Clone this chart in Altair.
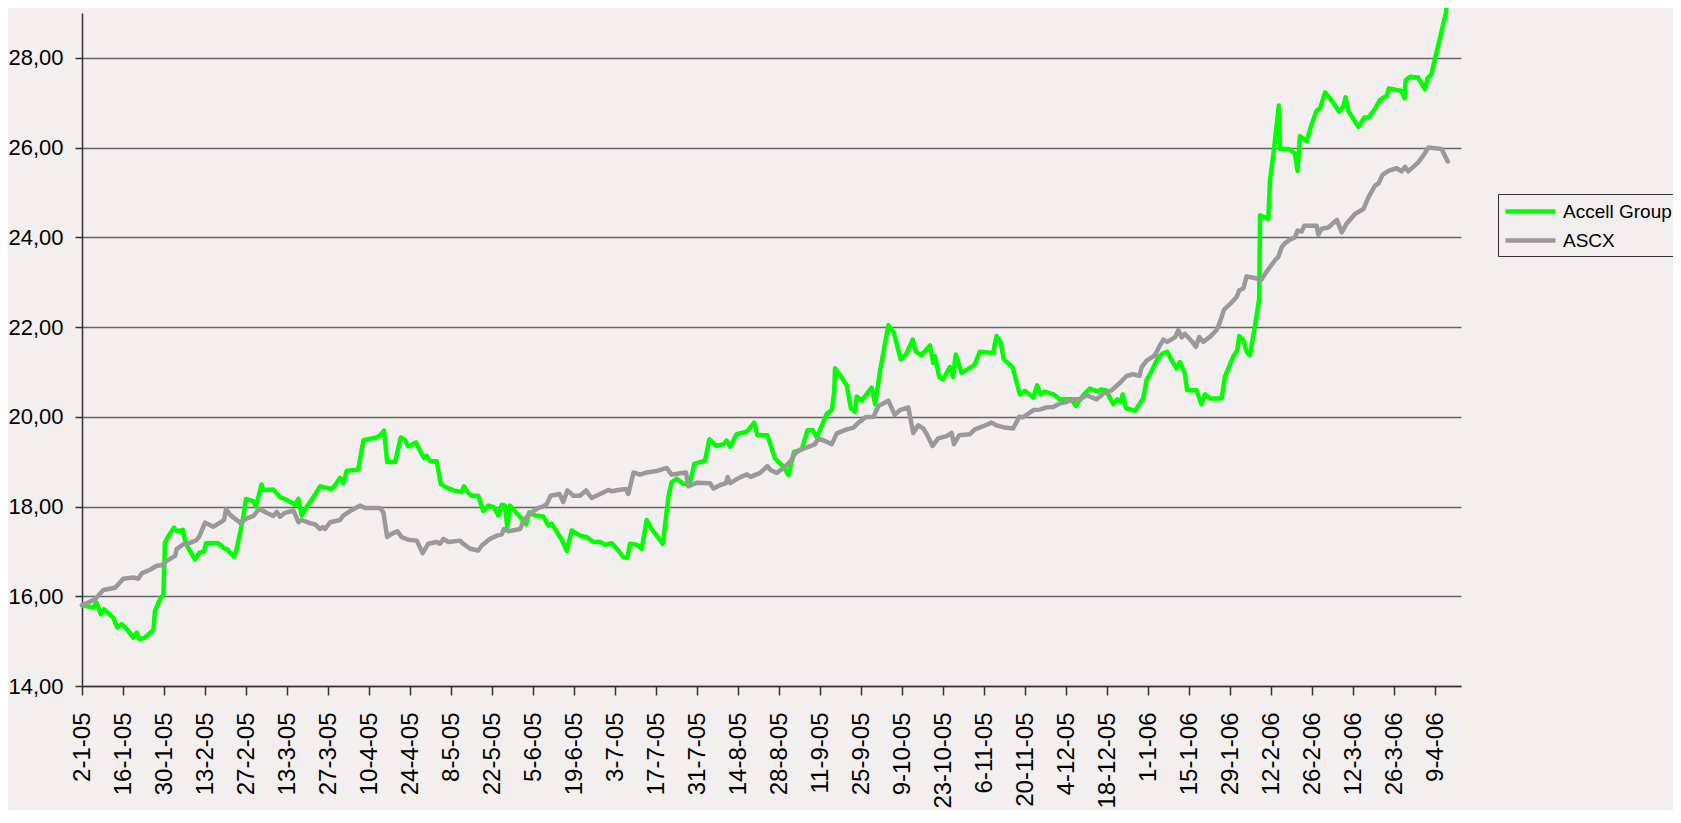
import altair as alt
import pandas as pd

START = "2005-01-02"
END_DAYS = 470.8  # axis end, in days after START

series_names = ["Accell Group", "ASCX"]
series_colors = ["#00FF00", "#999999"]

accell_days = [0, 3.9, 5.0, 6.4, 7.5, 10.7, 12.1, 13.5, 15.3, 17.5,
               18.7, 19.6, 21.5, 24.4, 24.9, 26.6, 27.8, 28.3, 29.5, 31.4,
               32.3, 34.4, 35.5, 38.6, 40.1, 41.7, 42.3, 44.3, 46.5, 48.3,
               49.4, 51.9, 52.8, 54.9, 56.0, 58.5, 59.4, 61.3, 61.9, 65.3,
               67.6, 69.9, 72.7, 73.9, 75.0, 76.7, 79.0, 81.3, 85.2, 86.4,
               88.1, 89.2, 90.4, 94.3, 96.1, 100.6, 101.7, 103.1, 104.2, 106.9,
               108.8, 110.3, 111.4, 114.0, 116.0, 116.8, 117.7, 118.8, 121.1, 122.5,
               124.5, 126.8, 129.6, 130.4, 131.9, 133.0, 135.3, 137.0, 138.7, 140.5,
               142.2, 143.3, 144.4, 145.2, 146.1, 148.4, 150.1, 151.6, 152.7, 154.7,
               157.5, 159.2, 160.4, 163.8, 165.5, 167.2, 170.0, 172.3, 174.6, 176.9,
               178.6, 180.9, 183.1, 184.8, 186.2, 187.1, 189.4, 191.1, 192.8, 194.5,
               196.2, 198.3, 200.2, 201.3, 203.0, 205.3, 207.6, 209.0, 212.7, 214.2,
               216.5, 219.0, 220.1, 221.3, 223.5, 227.0, 229.5, 230.6, 234.0, 236.6,
               238.3, 239.5, 241.2, 243.1, 245.7, 247.7, 249.5, 250.9, 254.3, 256.0,
               256.8, 257.1, 258.8, 261.1, 262.5, 263.9, 264.5, 266.2, 269.6, 270.8,
               272.5, 275.3, 277.2, 279.5, 281.5, 283.6, 284.7, 286.6, 289.5, 290.6,
               291.2, 292.7, 294.0, 296.3, 297.4, 298.3, 300.3, 303.7, 304.8, 306.5,
               311.1, 312.2, 313.6, 314.7, 317.7, 320.2, 321.9, 324.8, 326.1, 327.3,
               328.7, 331.6, 333.9, 337.8, 339.3, 341.8, 344.1, 347.0, 347.8, 349.6,
               352.1, 353.4, 354.6, 355.3, 356.4, 359.5, 361.2, 362.3, 363.5, 365.2,
               367.4, 368.9, 370.5, 372.0, 373.7, 374.8, 376.5, 377.3, 380.5, 382.2,
               383.4, 385.1, 389.1, 390.2, 393.1, 394.4, 395.1, 396.5, 397.6, 398.7,
               400.4, 401.9, 402.2, 405.0, 405.6, 406.9, 408.6, 409.0, 411.9, 414.1,
               415.0, 415.8, 418.1, 419.8, 421.5, 422.7, 424.4, 427.2, 429.2, 430.6,
               431.4, 432.3, 435.8, 437.8, 439.2, 441.4, 443.1, 445.4, 446.2, 450.5,
               451.5, 451.9, 453.4, 456.2, 458.5, 459.4, 460.6, 463.1, 465.6, 466.5]
accell_vals = [15.80, 15.75, 15.86, 15.60, 15.71, 15.52, 15.30, 15.38, 15.27, 15.08,
               15.19, 15.04, 15.08, 15.25, 15.67, 15.93, 16.04, 17.19, 17.34, 17.53,
               17.45, 17.48, 17.16, 16.82, 16.97, 17.00, 17.18, 17.19, 17.18, 17.08,
               17.05, 16.88, 17.05, 17.71, 18.17, 18.12, 18.00, 18.49, 18.37, 18.38,
               18.21, 18.15, 18.04, 18.17, 17.80, 17.99, 18.21, 18.45, 18.39, 18.47,
               18.64, 18.52, 18.80, 18.82, 19.48, 19.54, 19.58, 19.69, 18.99, 18.99,
               19.54, 19.48, 19.34, 19.43, 19.17, 19.08, 19.13, 19.01, 19.01, 18.50,
               18.42, 18.36, 18.32, 18.45, 18.30, 18.24, 18.24, 17.90, 18.02, 17.99,
               17.80, 18.04, 18.02, 17.54, 18.02, 17.85, 17.73, 17.60, 17.87, 17.80,
               17.78, 17.58, 17.62, 17.26, 17.01, 17.47, 17.35, 17.32, 17.21, 17.21,
               17.15, 17.18, 17.02, 16.87, 16.86, 17.17, 17.15, 17.06, 17.70, 17.50,
               17.35, 17.17, 18.21, 18.54, 18.62, 18.50, 18.52, 18.95, 19.02, 19.50,
               19.35, 19.39, 19.47, 19.33, 19.61, 19.67, 19.87, 19.59, 19.59, 19.07,
               18.96, 18.89, 18.70, 19.22, 19.27, 19.70, 19.70, 19.54, 20.07, 20.15,
               20.56, 21.08, 20.93, 20.70, 20.19, 20.11, 20.45, 20.36, 20.65, 20.28,
               21.04, 22.04, 21.87, 21.28, 21.41, 21.72, 21.45, 21.37, 21.59, 21.20,
               21.35, 20.88, 20.83, 21.11, 20.89, 21.39, 20.98, 21.11, 21.17, 21.45,
               21.42, 21.80, 21.67, 21.28, 21.11, 20.50, 20.58, 20.43, 20.70, 20.50,
               20.56, 20.50, 20.39, 20.39, 20.24, 20.48, 20.63, 20.56, 20.61, 20.59,
               20.28, 20.39, 20.33, 20.50, 20.19, 20.13, 20.30, 20.41, 20.83, 21.02,
               21.32, 21.41, 21.45, 21.26, 21.08, 21.22, 20.98, 20.59, 20.59, 20.28,
               20.50, 20.41, 20.41, 20.89, 21.35, 21.48, 21.80, 21.71, 21.45, 21.37,
               22.00, 22.63, 24.49, 24.41, 25.27, 25.93, 26.94, 25.97, 25.97, 25.87,
               25.48, 26.26, 26.14, 26.52, 26.82, 26.88, 27.23, 27.00, 26.80, 26.91,
               27.12, 26.82, 26.46, 26.67, 26.67, 26.86, 27.06, 27.15, 27.32, 27.26,
               27.10, 27.50, 27.58, 27.56, 27.30, 27.55, 27.62, 28.30, 28.99, 29.40]

ascx_days = [0, 4.4, 7.3, 11.3, 14.1, 17.5, 19.2, 20.4, 23.2, 25.5,
             27.2, 28.9, 31.8, 32.3, 34.6, 36.9, 39.1, 40.1, 42.0, 44.8,
             47.1, 48.5, 49.2, 50.5, 54.0, 56.2, 58.5, 59.4, 60.5, 63.0,
             65.3, 66.5, 67.6, 69.3, 72.2, 73.9, 75.0, 77.8, 79.6, 81.3,
             82.2, 83.0, 84.7, 88.1, 89.2, 91.5, 94.9, 96.6, 101.7, 102.9,
             104.2, 105.7, 107.7, 109.1, 111.4, 114.3, 116.3, 118.2, 121.1, 122.2,
             123.4, 125.1, 129.1, 130.0, 132.5, 135.3, 136.5, 139.3, 141.6, 143.3,
             144.1, 145.6, 149.6, 150.7, 153.0, 155.8, 157.5, 158.7, 160.0, 163.0,
             164.3, 165.7, 167.8, 170.0, 172.1, 174.0, 176.9, 179.7, 180.9, 183.1,
             185.7, 186.5, 188.3, 190.5, 192.8, 196.2, 199.6, 201.3, 204.2, 206.2,
             207.0, 209.9, 214.4, 215.6, 217.9, 219.9, 220.4, 221.3, 223.0, 224.7,
             227.0, 228.3, 231.5, 234.0, 235.2, 237.2, 240.0, 241.8, 243.5, 245.2,
             248.0, 250.3, 251.4, 254.3, 256.0, 257.7, 261.1, 263.4, 265.1, 267.4,
             270.2, 271.9, 275.3, 277.5, 279.2, 282.1, 283.8, 285.5, 287.2, 288.3,
             290.4, 292.3, 295.2, 296.9, 297.7, 299.5, 303.1, 304.8, 307.7, 310.5,
             312.2, 315.1, 317.9, 320.0, 321.3, 324.8, 327.0, 329.3, 331.6, 333.9,
             336.1, 338.4, 340.7, 343.0, 346.4, 348.7, 351.5, 354.4, 356.6, 358.9,
             361.0, 361.8, 363.5, 366.3, 368.0, 369.2, 370.5, 373.1, 374.3, 375.4,
             376.5, 378.8, 380.3, 381.4, 382.8, 385.1, 387.4, 388.5, 389.9, 391.9,
             394.2, 395.1, 396.5, 397.6, 399.9, 402.7, 404.4, 405.6, 407.3, 408.4,
             409.6, 410.7, 412.4, 414.1, 415.0, 416.4, 417.3, 421.5, 422.1, 423.2,
             425.5, 428.4, 430.1, 431.8, 434.6, 437.5, 439.2, 441.4, 442.6, 444.0,
             446.0, 448.8, 450.5, 451.7, 452.8, 456.2, 457.9, 459.7, 464.2, 465.3,
             466.3]
ascx_vals = [15.80, 15.93, 16.14, 16.19, 16.39, 16.42, 16.39, 16.51, 16.59, 16.68,
             16.69, 16.79, 16.90, 17.05, 17.16, 17.19, 17.25, 17.34, 17.64, 17.55,
             17.64, 17.70, 17.94, 17.82, 17.64, 17.73, 17.79, 17.86, 17.95, 17.86,
             17.79, 17.88, 17.77, 17.86, 17.91, 17.65, 17.70, 17.63, 17.60, 17.50,
             17.54, 17.50, 17.65, 17.70, 17.80, 17.90, 18.02, 17.97, 17.97, 17.87,
             17.32, 17.39, 17.45, 17.32, 17.26, 17.24, 16.96, 17.17, 17.21, 17.17,
             17.28, 17.21, 17.24, 17.18, 17.06, 17.02, 17.13, 17.28, 17.35, 17.38,
             17.50, 17.45, 17.50, 17.69, 17.85, 17.97, 18.00, 18.06, 18.24, 18.28,
             18.10, 18.36, 18.24, 18.24, 18.36, 18.19, 18.28, 18.37, 18.34, 18.37,
             18.39, 18.28, 18.76, 18.71, 18.76, 18.79, 18.86, 18.71, 18.74, 18.76,
             18.45, 18.53, 18.52, 18.40, 18.48, 18.52, 18.66, 18.52, 18.59, 18.65,
             18.72, 18.66, 18.75, 18.90, 18.81, 18.75, 18.89, 19.00, 19.18, 19.27,
             19.33, 19.39, 19.52, 19.44, 19.39, 19.63, 19.72, 19.76, 19.87, 19.99,
             20.00, 20.24, 20.36, 20.04, 20.15, 20.21, 19.64, 19.81, 19.74, 19.63,
             19.35, 19.52, 19.57, 19.64, 19.39, 19.59, 19.61, 19.72, 19.79, 19.87,
             19.81, 19.76, 19.74, 20.00, 19.99, 20.15, 20.16, 20.21, 20.22, 20.30,
             20.33, 20.39, 20.39, 20.48, 20.39, 20.52, 20.59, 20.76, 20.91, 20.95,
             20.91, 21.11, 21.25, 21.37, 21.59, 21.72, 21.67, 21.77, 21.93, 21.77,
             21.85, 21.69, 21.56, 21.78, 21.67, 21.78, 21.94, 22.11, 22.39, 22.51,
             22.67, 22.82, 22.86, 23.13, 23.10, 23.06, 23.23, 23.34, 23.49, 23.56,
             23.78, 23.87, 23.95, 24.00, 24.15, 24.13, 24.26, 24.26, 24.06, 24.19,
             24.22, 24.39, 24.11, 24.31, 24.52, 24.63, 24.89, 25.15, 25.20, 25.39,
             25.48, 25.54, 25.47, 25.57, 25.47, 25.67, 25.82, 26.00, 25.97, 25.82,
             25.69]

tick_dates = ["2005-01-02", "2005-01-16", "2005-01-30", "2005-02-13", "2005-02-27",
              "2005-03-13", "2005-03-27", "2005-04-10", "2005-04-24", "2005-05-08",
              "2005-05-22", "2005-06-05", "2005-06-19", "2005-07-03", "2005-07-17",
              "2005-07-31", "2005-08-14", "2005-08-28", "2005-09-11", "2005-09-25",
              "2005-10-09", "2005-10-23", "2005-11-06", "2005-11-20", "2005-12-04",
              "2005-12-18", "2006-01-01", "2006-01-15", "2006-01-29", "2006-02-12",
              "2006-02-26", "2006-03-12", "2006-03-26", "2006-04-09"]
y_ticks = [14, 16, 18, 20, 22, 24, 26, 28]

assert len(accell_days) == len(accell_vals), (len(accell_days), len(accell_vals))
assert len(ascx_days) == len(ascx_vals), (len(ascx_days), len(ascx_vals))

start = pd.Timestamp(START, tz="UTC")


def ms(ts):
    return int(ts.value // 10**6)


rows = []
for name, days, vals in [(series_names[0], accell_days, accell_vals),
                         (series_names[1], ascx_days, ascx_vals)]:
    for i, (d, v) in enumerate(zip(days, vals)):
        rows.append({"date": ms(start + pd.Timedelta(days=d)), "value": v,
                     "series": name, "i": i})
df = pd.DataFrame(rows)

tick_ms = [ms(pd.Timestamp(t, tz="UTC")) for t in tick_dates]
x_domain = [ms(start), ms(start + pd.Timedelta(days=END_DAYS))]

FONT = "Liberation Sans"
BG = "#F2EFEE"

base = alt.Chart(df).mark_line(
    strokeWidth=4.5, strokeJoin="round", strokeCap="round", clip=False
).encode(
    x=alt.X("date:T",
            scale=alt.Scale(type="utc", domain=x_domain, nice=False),
            axis=alt.Axis(values=tick_ms, title=None, grid=False,
                          labelExpr="utcFormat(datum.value, '%-d-%-m-%y')",
                          labelAngle=270, labelAlign="right", labelBaseline="middle",
                          labelFont=FONT, labelFontSize=24, labelColor="#000000",
                          labelPadding=17, labelOverlap=False, labelBound=False,
                          labelFlush=False,
                          domainColor="#333333", domainWidth=1.5,
                          tickColor="#333333", tickWidth=1.5, tickSize=9)),
    y=alt.Y("value:Q",
            scale=alt.Scale(domain=[14, 29], nice=False, zero=False),
            axis=alt.Axis(values=y_ticks, title=None, grid=True,
                          gridColor="#666666", gridWidth=1.5,
                          labelExpr="replace(format(datum.value, '.2f'), '.', ',')",
                          labelFont=FONT, labelFontSize=22, labelColor="#000000",
                          labelPadding=12, labelFlush=False,
                          domainColor="#333333", domainWidth=1.5,
                          tickColor="#333333", tickWidth=1.5, tickSize=7)),
    color=alt.Color("series:N",
                    scale=alt.Scale(domain=series_names, range=series_colors),
                    legend=alt.Legend(title=None, orient="none",
                                      legendX=1416, legendY=181,
                                      strokeColor="#333333", fillColor=BG,
                                      padding=5, rowPadding=6,
                                      symbolType="M-1,0H4", symbolStrokeWidth=4.5,
                                      symbolSize=400, labelOffset=35,
                                      symbolFillColor="transparent",
                                      labelFont=FONT, labelFontSize=19,
                                      labelColor="#000000")),
    order=alt.Order("i:Q"),
)

chart = alt.layer(
    base.transform_filter(f"datum.series == '{series_names[0]}'"),
    base.transform_filter(f"datum.series == '{series_names[1]}'"),
).properties(
    width=1379, height=673,
    padding={"left": 74, "top": 5, "right": 212, "bottom": 124},
    autosize=alt.AutoSizeParams(type="none"),
    background=BG,
).configure_view(stroke=None, fill=BG)

chart.save("out.html", embed_options={"renderer": "svg", "actions": False})
